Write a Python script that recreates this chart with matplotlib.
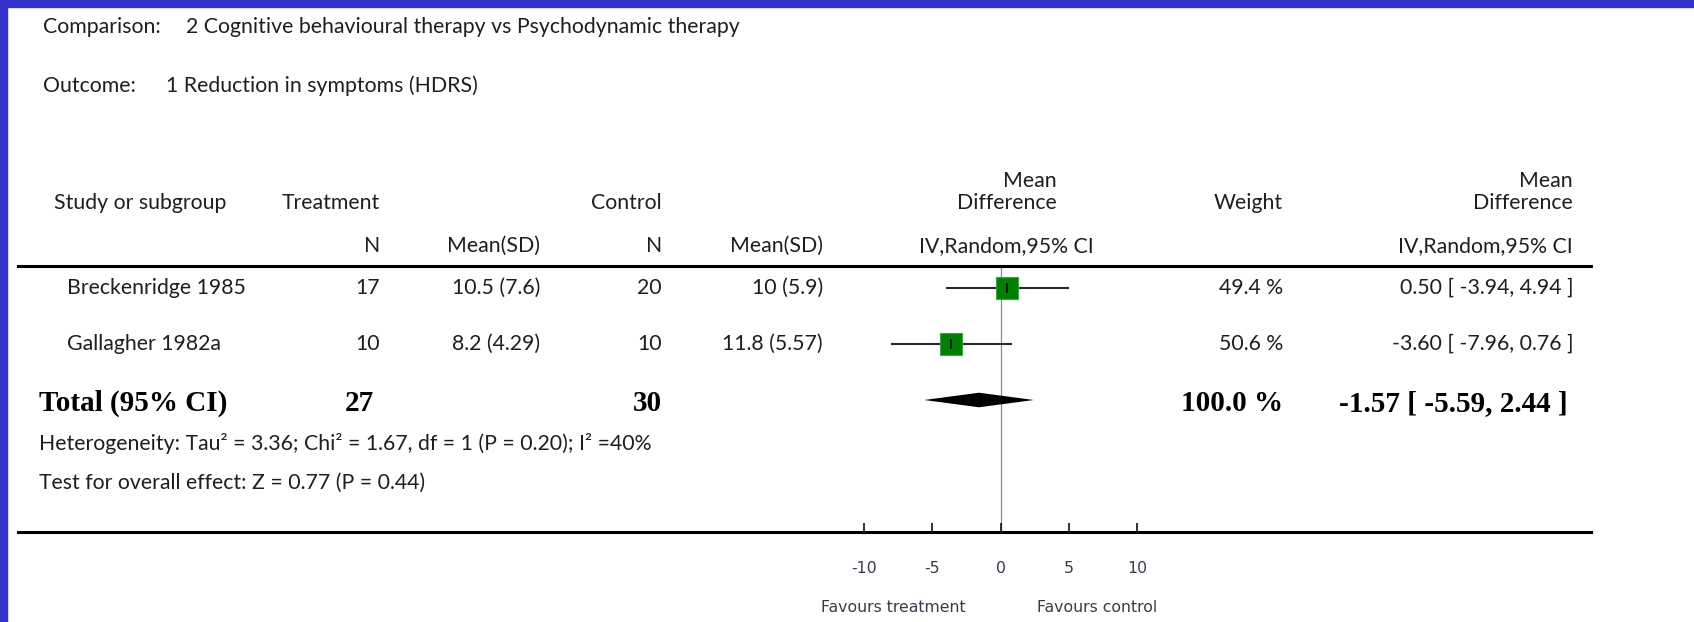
import matplotlib
matplotlib.use('Agg')
import matplotlib.pyplot as plt
import matplotlib.transforms as mtransforms
from matplotlib.patches import Rectangle
import numpy as np

# data
studies = ['Breckenridge 1985', 'Gallagher 1982a']
treat_n = [17, 10]
treat_msd = ['10.5 (7.6)', '8.2 (4.29)']
ctrl_n = [20, 10]
ctrl_msd = ['10 (5.9)', '11.8 (5.57)']
md = [0.50, -3.60]
ci_lo = [-3.94, -7.96]
ci_hi = [4.94, 0.76]
weights = [49.4, 50.6]
total_md = -1.57
total_lo = -5.59
total_hi = 2.44
total_treat = 27
total_ctrl = 30
ticks = [-10, -5, 0, 5, 10]

W, H = 1694, 622
plt.rcParams['font.family'] = ['Lato', 'DejaVu Sans']
TXT = '#1e1e1e'
FS = 15.3

fig = plt.figure(figsize=(W / 100, H / 100), dpi=100)
fig.patch.set_facecolor('white')

def px(x, y):
    return x / W, 1 - y / H

# blue frame on top and left
fig.patches.append(Rectangle((0, 1 - 7 / H), 1, 7 / H, transform=fig.transFigure,
                             color='#3333cc', zorder=0))
fig.patches.append(Rectangle((0, 0), 7 / W, 1, transform=fig.transFigure,
                             color='#3333cc', zorder=0))

# forest plot axes
x0, x1 = 864, 1137
y_top, y_bot = 266, 532
ax = fig.add_axes([x0 / W, 1 - y_bot / H, (x1 - x0) / W, (y_bot - y_top) / H])
ax.set_xlim(-10, 10)
row_px = 56.0
ax.set_ylim((y_bot - 288) / row_px, (y_top - 288) / row_px)
for s in ax.spines.values():
    s.set_visible(False)
ax.set_yticks([])
ax.set_xticks(ticks)
ax.set_xticklabels([str(t) for t in ticks], family='DejaVu Sans')
ax.tick_params(axis='x', direction='in', length=6.5, width=1.2, pad=21,
               labelsize=11.3, labelcolor='#3a3a4a', color='#111111')
ax.patch.set_alpha(0)

ax.axvline(0, color='#8a8a8a', lw=0.9, zorder=1)
rows = np.arange(len(studies))
for i in rows:
    ax.plot([ci_lo[i], ci_hi[i]], [i, i], color='#2a2a2a', lw=1.5, zorder=2)
    ms = 15.5 * np.sqrt(weights[i] / 50)
    ax.plot(md[i], i, marker='s', ms=ms, color='#007f00', mec='#3fa23f', mew=0.8, zorder=3)
    ax.plot(md[i], i, marker='|', ms=7, color='black', mew=1.2, zorder=4)
tr = len(studies)
dh = 0.13
ax.fill([total_lo, total_md, total_hi, total_md], [tr, tr - dh, tr, tr + dh],
        color='black', zorder=3, lw=0)

# horizontal rules
for yy in (y_top, y_bot):
    fig.add_artist(plt.Line2D([18 / W, 1591 / W], [1 - yy / H] * 2,
                              transform=fig.transFigure, color='black', lw=2.2))

# titles
fig.text(*px(43, 27), 'Comparison:', fontsize=FS, color=TXT, va='center')
fig.text(*px(186, 27), '2 Cognitive behavioural therapy vs Psychodynamic therapy',
         fontsize=FS, color=TXT, va='center')
fig.text(*px(43, 86), 'Outcome:', fontsize=FS, color=TXT, va='center')
fig.text(*px(166, 86), '1 Reduction in symptoms (HDRS)', fontsize=FS, color=TXT, va='center')

# column headers
hdr = [
    (54, 203, 'Study or subgroup', 'left'),
    (380, 203, 'Treatment', 'right'),
    (662, 203, 'Control', 'right'),
    (1057, 181, 'Mean', 'right'),
    (1057, 203, 'Difference', 'right'),
    (1283, 203, 'Weight', 'right'),
    (1573, 181, 'Mean', 'right'),
    (1573, 203, 'Difference', 'right'),
    (380, 246, 'N', 'right'),
    (540, 246, 'Mean(SD)', 'right'),
    (662, 246, 'N', 'right'),
    (823, 246, 'Mean(SD)', 'right'),
    (1006, 246, 'IV,Random,95% CI', 'center'),
    (1573, 246, 'IV,Random,95% CI', 'right'),
]
for x, y, s, ha in hdr:
    fig.text(*px(x, y), s, fontsize=FS, color=TXT, ha=ha, va='center')

# study rows (x in figure pixels, y in row units)
tb = mtransforms.blended_transform_factory(fig.transFigure, ax.transData)
for i in rows:
    cells = [
        (67, studies[i], 'left'),
        (380, str(treat_n[i]), 'right'),
        (540, treat_msd[i], 'right'),
        (662, str(ctrl_n[i]), 'right'),
        (823, ctrl_msd[i], 'right'),
        (1283, f'{weights[i]:.1f} %', 'right'),
        (1573, f'{md[i]:.2f} [ {ci_lo[i]:.2f}, {ci_hi[i]:.2f} ]', 'right'),
    ]
    for x, s, ha in cells:
        ax.text(x / W, i, s, transform=tb, fontsize=FS, color=TXT, ha=ha, va='center')

# total row
bold = dict(family='Liberation Serif', fontweight='bold', fontsize=21, color='black', va='center')
tot = [
    (39, 'Total (95% CI)', 'left'),
    (374, str(total_treat), 'right'),
    (662, str(total_ctrl), 'right'),
    (1283, f'{sum(weights):.1f} %', 'right'),
    (1568, f'{total_md:.2f} [ {total_lo:.2f}, {total_hi:.2f} ]', 'right'),
]
for x, s, ha in tot:
    ax.text(x / W, tr + 0.06, s, transform=tb, ha=ha, **bold)

fig.text(*px(39, 443), 'Heterogeneity: Tau² = 3.36; Chi² = 1.67, df = 1 (P = 0.20); I² =40%',
         fontsize=FS, color=TXT, va='center')
fig.text(*px(39, 483), 'Test for overall effect: Z = 0.77 (P = 0.44)',
         fontsize=FS, color=TXT, va='center')

fig.text(*px(893, 608), 'Favours treatment', fontsize=11.3, color='#3a3a4a',
         family='DejaVu Sans', ha='center', va='center')
fig.text(*px(1097, 608), 'Favours control', fontsize=11.3, color='#3a3a4a',
         family='DejaVu Sans', ha='center', va='center')

fig.savefig('out.png', dpi=100, facecolor='white')
